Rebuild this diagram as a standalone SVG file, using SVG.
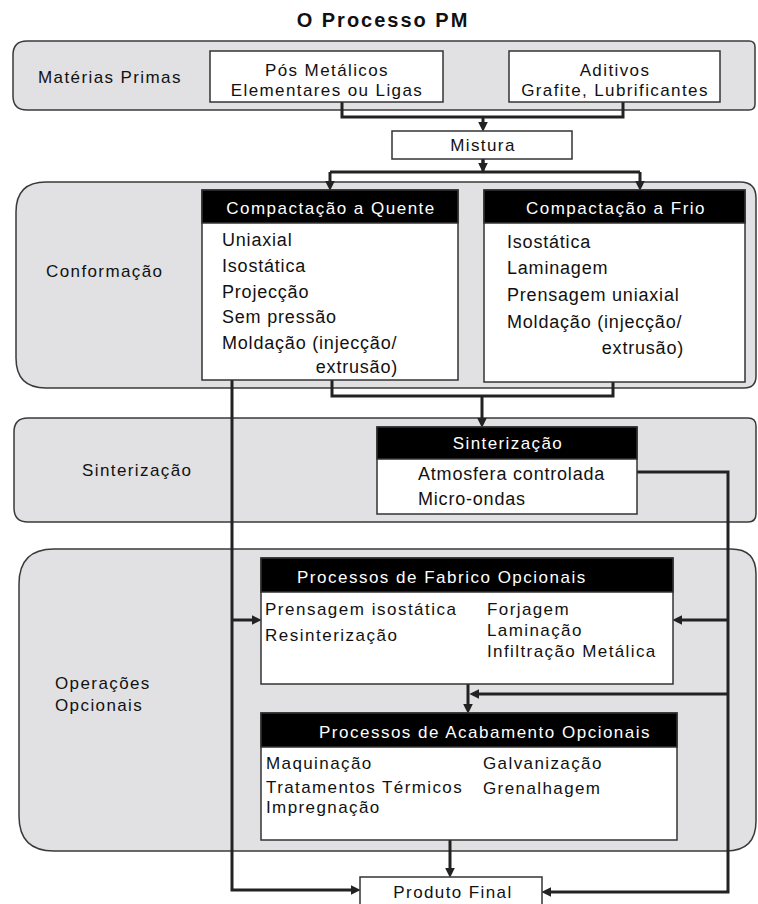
<svg xmlns="http://www.w3.org/2000/svg" width="758" height="904" viewBox="0 0 758 904">
<style>
text{font-family:"Liberation Sans",Arial,sans-serif;fill:#111}
.title{font-size:20px;font-weight:bold;letter-spacing:2px}
.lbl{font-size:17px;letter-spacing:1.4px}
.it{font-size:18px;letter-spacing:0.8px}
.it2{font-size:17px;letter-spacing:1.5px}
.hd{font-size:17px;letter-spacing:1.5px;fill:#fff}
.hd2{font-size:17px;letter-spacing:1.4px;fill:#fff}
.band{fill:#e1e1e3;stroke:#3a3a3a;stroke-width:1.5}
.box{fill:#fff;stroke:#333;stroke-width:1.5}
.head{fill:#000;stroke:#333;stroke-width:1.5}
.c{fill:none;stroke:#222;stroke-width:3}
.ca{fill:none;stroke:#222;stroke-width:3;marker-end:url(#ah)}
</style>
<defs>
<marker id="ah" markerUnits="userSpaceOnUse" markerWidth="10" markerHeight="10" viewBox="0 0 9 9" refX="3" refY="4.5" orient="auto">
<path d="M0,0 L9,4.5 L0,9 Z" fill="#222"/>
</marker>
</defs>

<text class="title" x="383" y="27" text-anchor="middle">O Processo PM</text>

<g id="bands">
<path id="band-materias" class="band" d="M27,41 H749 Q755,41 755,47 V104 Q755,110 749,110 H27 Q13,110 13,96 V55 Q13,41 27,41 Z"/>
<path id="band-conformacao" class="band" d="M46,182 H740 Q756,182 756,198 V376 Q756,388 744,388 H46 Q16,388 16,358 V212 Q16,182 46,182 Z"/>
<path id="band-sinterizacao" class="band" d="M28,418 H748 Q756,418 756,426 V514 Q756,522 748,522 H28 Q14,522 14,508 V432 Q14,418 28,418 Z"/>
<path id="band-operacoes" class="band" d="M54,549 H731 Q756,549 756,574 V821 Q756,851 726,851 H54 Q19,851 19,816 V584 Q19,549 54,549 Z"/>
<text class="lbl" x="38" y="83">Matérias Primas</text>
<text class="lbl" x="46" y="277">Conformação</text>
<text class="lbl" x="82" y="476">Sinterização</text>
<text class="lbl" x="55" y="689">Operações</text>
<text class="lbl" x="55" y="711">Opcionais</text>
</g>

<g id="connectors">
<path class="c" d="M342,102 V117 H623 V102"/>
<path class="ca" d="M483,117 V125"/>
<path class="c" d="M483,159 V172"/>
<path class="c" d="M330,172 H640"/>
<path class="ca" d="M330,172 V184"/>
<path class="ca" d="M640,172 V184"/>
<path class="ca" d="M483,159 V166"/>
<path class="ca" d="M232,380 V890 H354"/>
<path class="ca" d="M232,620 H255"/>
<path class="c" d="M332,380 V396 H613 V382"/>
<path class="ca" d="M482,396 V421"/>
<path class="ca" d="M637,472 H728 V892 H548"/>
<path class="ca" d="M728,620 H679"/>
<path class="ca" d="M728,694 H476"/>
<path class="ca" d="M468,684 V707"/>
<path class="ca" d="M450,840 V871"/>
</g>

<g id="pos-metalicos">
<rect class="box" x="210" y="51" width="233" height="51"/>
<text class="lbl" x="327" y="76" text-anchor="middle">Pós Metálicos</text>
<text class="lbl" x="327" y="96" text-anchor="middle">Elementares ou Ligas</text>
</g>

<g id="aditivos">
<rect class="box" x="509" y="51" width="211" height="51"/>
<text class="lbl" x="615" y="76" text-anchor="middle">Aditivos</text>
<text class="lbl" x="615" y="96" text-anchor="middle">Grafite, Lubrificantes</text>
</g>

<g id="mistura">
<rect class="box" x="392" y="131" width="180" height="28"/>
<text class="lbl" x="483" y="151" text-anchor="middle">Mistura</text>
</g>

<g id="compactacao-quente">
<rect class="box" x="202" y="190" width="256" height="190"/>
<rect class="head" x="202" y="190" width="256" height="33"/>
<text class="hd" x="331" y="214" text-anchor="middle">Compactação a Quente</text>
<text class="it" x="222" y="246">Uniaxial</text>
<text class="it" x="222" y="272">Isostática</text>
<text class="it" x="222" y="298">Projecção</text>
<text class="it" x="222" y="323">Sem pressão</text>
<text class="it" x="222" y="349">Moldação (injecção/</text>
<text class="it" x="398" y="373" text-anchor="end">extrusão)</text>
</g>

<g id="compactacao-frio">
<rect class="box" x="484" y="190" width="261" height="192"/>
<rect class="head" x="484" y="190" width="261" height="33"/>
<text class="hd" x="616" y="214" text-anchor="middle">Compactação a Frio</text>
<text class="it" x="507" y="248">Isostática</text>
<text class="it" x="507" y="274">Laminagem</text>
<text class="it" x="507" y="301">Prensagem uniaxial</text>
<text class="it" x="507" y="328">Moldação (injecção/</text>
<text class="it" x="684" y="354" text-anchor="end">extrusão)</text>
</g>

<g id="sinterizacao">
<rect class="box" x="377" y="427" width="260" height="87"/>
<rect class="head" x="377" y="427" width="260" height="32"/>
<text class="hd2" x="508" y="449" text-anchor="middle">Sinterização</text>
<text class="it" x="418" y="480">Atmosfera controlada</text>
<text class="it" x="418" y="505">Micro-ondas</text>
</g>

<g id="fabrico-opcionais">
<rect class="box" x="261" y="558" width="412" height="126"/>
<rect class="head" x="261" y="558" width="412" height="34"/>
<text class="hd" x="297" y="583">Processos de Fabrico Opcionais</text>
<text class="it2" x="265" y="615">Prensagem isostática</text>
<text class="it2" x="265" y="641">Resinterização</text>
<text class="lbl" x="487" y="615">Forjagem</text>
<text class="lbl" x="487" y="636">Laminação</text>
<text class="lbl" x="487" y="657">Infiltração Metálica</text>
</g>

<g id="acabamento-opcionais">
<rect class="box" x="261" y="713" width="416" height="127"/>
<rect class="head" x="261" y="713" width="416" height="34"/>
<text class="hd" x="319" y="738">Processos de Acabamento Opcionais</text>
<text class="lbl" x="266" y="769">Maquinação</text>
<text class="lbl" x="266" y="793">Tratamentos Térmicos</text>
<text class="lbl" x="266" y="813">Impregnação</text>
<text class="lbl" x="483" y="769">Galvanização</text>
<text class="lbl" x="483" y="794">Grenalhagem</text>
</g>

<g id="produto-final">
<rect class="box" x="360" y="877" width="182" height="40"/>
<text class="lbl" x="453" y="898" text-anchor="middle">Produto Final</text>
</g>
</svg>
